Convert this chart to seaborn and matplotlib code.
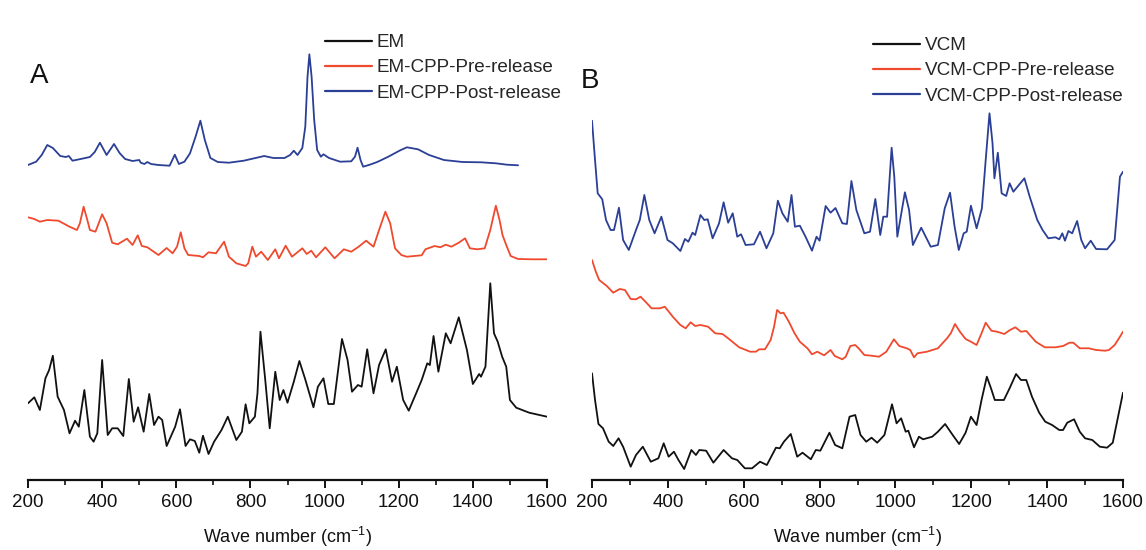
import matplotlib
matplotlib.use("Agg")
import matplotlib.pyplot as plt
import seaborn as sns
import pandas as pd
from matplotlib.ticker import MultipleLocator

# ---------------- data: (wave number cm-1, offset intensity a.u.) ----------------
A_EM = [
    (200, 76.7), (217, 82.7), (232, 70), (247, 101.7), (257, 110), (267, 124.3), (280, 83.3),
    (297, 70), (312, 46.7), (327, 59.3), (337, 53.3), (352, 90), (367, 43.3), (377, 38.3),
    (387, 46.7), (400, 120), (415, 45), (427, 51.7), (442, 51.7), (457, 44), (472, 101),
    (485, 58.3), (497, 72.7), (512, 48.3), (527, 86), (540, 55), (552, 63.3), (562, 60),
    (574, 34), (597, 53.3), (610, 70.7), (625, 34), (637, 40.7), (650, 39), (662, 27.3),
    (672, 44.3), (687, 26), (702, 38.3), (722, 50), (739, 63.3), (762, 40), (777, 48.3),
    (787, 75.7), (797, 56.7), (812, 63.3), (819, 86.7), (827, 148.3), (840, 100), (852, 51.7),
    (867, 108.3), (879, 80), (889, 90), (900, 77.3), (917, 98.3), (932, 119), (947, 101.7),
    (970, 72.7), (982, 93.3), (997, 101.7), (1010, 76), (1025, 76), (1047, 141), (1062, 120),
    (1074, 88.3), (1090, 95), (1100, 93.3), (1115, 130.7), (1132, 86.7), (1147, 115),
    (1165, 130.7), (1182, 98.3), (1195, 113.3), (1212, 80), (1227, 69.3), (1247, 86.7),
    (1262, 100), (1277, 116.7), (1284, 115), (1294, 144), (1307, 108.3), (1327, 146.7),
    (1340, 136.7), (1362, 162.7), (1384, 130), (1400, 96), (1417, 106), (1422, 103.3),
    (1434, 113.3), (1447, 196.7), (1457, 146.7), (1467, 138.3), (1479, 123.3), (1490, 113.3),
    (1500, 80), (1517, 72.3), (1552, 67.3), (1600, 63.3),
]
A_PRE = [
    (200, 262.7), (217, 261), (232, 258.3), (252, 260), (282, 259.3), (292, 257.3), (312, 253.3),
    (332, 250), (340, 256.7), (350, 273.3), (360, 260), (367, 250), (382, 248.3), (400, 265.7),
    (412, 256.7), (427, 237.3), (442, 235.7), (467, 241.3), (482, 235), (496, 244.7), (507, 234),
    (522, 232.7), (552, 225), (574, 232), (590, 226.7), (602, 233.3), (612, 247.7), (622, 231.7),
    (632, 225), (662, 224), (672, 222.7), (687, 227.7), (707, 226.7), (729, 238.3), (742, 223.3),
    (762, 216.7), (787, 214), (794, 216.7), (805, 233.3), (815, 223.3), (829, 228.3), (847, 220),
    (867, 230.7), (877, 221.7), (895, 234.3), (912, 223.3), (940, 231.7), (952, 226),
    (964, 229.3), (977, 222.7), (1002, 232.7), (1027, 221.7), (1052, 230.7), (1072, 228.3),
    (1092, 233.3), (1112, 239.3), (1132, 233.3), (1147, 250), (1164, 268.3), (1177, 256.7),
    (1190, 231.7), (1207, 225), (1222, 223.3), (1262, 224.7), (1272, 230.7), (1297, 234),
    (1312, 232.7), (1327, 235.3), (1342, 233.3), (1362, 237.3), (1379, 241.7), (1392, 231.7),
    (1412, 230.7), (1432, 231.7), (1447, 250), (1462, 274.3), (1472, 260), (1480, 245),
    (1490, 235), (1502, 224), (1522, 221), (1562, 220.7), (1600, 220.7),
]
A_POST = [
    (200, 315), (222, 318.3), (237, 325), (252, 335), (267, 332), (287, 324), (302, 323),
    (310, 324), (320, 319.3), (342, 321), (367, 323), (380, 328), (394, 337.3), (412, 325),
    (432, 336), (447, 327), (462, 321), (482, 319), (500, 320), (504, 317.3), (514, 316),
    (522, 318), (532, 316), (552, 315), (582, 314.3), (596, 325.3), (607, 316), (622, 318.3),
    (637, 326.7), (652, 343.3), (665, 359.3), (677, 340), (692, 322), (712, 318), (742, 317.3),
    (782, 319.3), (822, 322.7), (837, 324), (862, 322), (892, 322), (907, 325), (917, 329.3),
    (927, 325), (940, 332), (948, 353.3), (954, 403.3), (959, 425.7), (965, 403.3), (972, 360),
    (980, 330), (990, 323.3), (997, 325.7), (1012, 322), (1042, 318.3), (1072, 318.7),
    (1082, 323.3), (1089, 332.3), (1097, 320), (1104, 313.3), (1122, 315.3), (1142, 318),
    (1172, 323.3), (1202, 329.3), (1222, 332.7), (1252, 330.7), (1282, 325), (1322, 320),
    (1372, 318), (1422, 317.7), (1462, 316.7), (1492, 315.3), (1522, 314.7),
]
B_VCM = [
    (200, 106.7), (208, 80), (217, 56), (229, 51.7), (244, 38.3), (256, 34), (270, 41.7),
    (282, 33.3), (302, 13.3), (316, 25), (334, 33.3), (355, 18.3), (375, 21.7), (389, 36.7),
    (402, 23.3), (416, 28.3), (428, 20), (443, 11), (462, 30), (474, 25), (483, 30), (501, 29.3),
    (520, 17.3), (547, 30), (569, 21.7), (583, 20), (603, 11.7), (622, 11.7), (643, 18.3),
    (661, 15), (685, 32.3), (695, 31.7), (706, 38.3), (724, 46), (741, 23.3), (755, 27.3),
    (777, 20.7), (790, 30), (802, 29.3), (826, 47.3), (841, 35), (860, 31.7), (879, 63.3),
    (894, 65), (908, 45), (923, 38.3), (937, 42.3), (952, 37.3), (971, 45), (991, 75.7),
    (1003, 56.7), (1015, 61.7), (1027, 48.3), (1034, 49.3), (1049, 32.7), (1062, 43.3),
    (1073, 40.7), (1097, 43.3), (1112, 48.3), (1131, 56), (1151, 45), (1168, 36), (1185, 47.3),
    (1199, 63.3), (1214, 55), (1227, 80), (1241, 103.3), (1252, 91.7), (1262, 80), (1286, 80),
    (1301, 91.7), (1318, 106), (1331, 100), (1345, 100), (1360, 83.3), (1379, 67.3),
    (1395, 58.3), (1413, 55), (1432, 50), (1442, 50), (1453, 57.3), (1471, 60.7), (1486, 48.3),
    (1500, 41.7), (1519, 40), (1539, 33.3), (1558, 32.3), (1573, 37.3), (1587, 63.3),
    (1600, 87.3),
]
B_PRE = [
    (200, 220), (210, 208.3), (219, 200), (239, 194), (256, 187.3), (273, 191), (287, 190),
    (302, 181), (316, 180.7), (328, 183.3), (341, 178.3), (357, 171.7), (379, 171.7),
    (392, 173.3), (413, 163.3), (433, 155), (447, 151.7), (460, 157.7), (472, 154), (486, 155),
    (506, 153.3), (525, 146.7), (544, 146), (559, 141.7), (588, 132.7), (617, 128.3),
    (632, 128.3), (641, 130.7), (656, 130.7), (671, 140), (680, 153.3), (688, 170), (697, 166.7),
    (705, 167.3), (719, 158.3), (734, 146.7), (748, 138.3), (768, 131.7), (780, 125.7),
    (794, 128.3), (812, 124.7), (829, 130), (840, 124), (860, 120.7), (869, 123.3), (881, 134),
    (894, 135), (903, 131.7), (918, 125), (937, 124.3), (957, 123.3), (976, 128.3), (996, 140.7),
    (1010, 134), (1030, 131.7), (1039, 130), (1049, 122.7), (1058, 126.7), (1083, 128.3),
    (1112, 131.7), (1136, 141.7), (1146, 146.7), (1157, 156), (1170, 148.3), (1185, 141),
    (1199, 138.3), (1214, 135), (1227, 146.7), (1238, 157.3), (1253, 149.3), (1268, 148.3),
    (1287, 146), (1302, 150), (1316, 152.7), (1331, 148.3), (1345, 149), (1370, 138.3),
    (1394, 132.7), (1422, 132.7), (1442, 134), (1459, 137.3), (1469, 137.3), (1486, 131.7),
    (1510, 131.7), (1529, 130), (1553, 129.3), (1563, 130), (1578, 135), (1592, 143.3),
    (1600, 148.3),
]
B_POST = [
    (200, 359.3), (208, 320), (215, 286.7), (227, 280.7), (237, 260), (249, 250), (258, 250),
    (271, 272.3), (282, 240), (297, 230), (316, 250), (326, 260), (338, 285), (351, 260),
    (365, 246.7), (383, 263.3), (399, 240), (413, 236.7), (433, 229), (445, 241), (454, 238.3),
    (465, 247.3), (472, 245), (486, 265), (496, 260), (505, 260.7), (518, 241.7), (535, 256.7),
    (547, 277.7), (559, 257.3), (571, 266.7), (583, 243.3), (593, 245.7), (605, 235),
    (627, 235.7), (643, 248.3), (660, 231.7), (678, 246.7), (690, 279.3), (702, 266.7),
    (716, 258.3), (726, 285), (735, 253.3), (748, 254.3), (763, 243.3), (780, 229.3),
    (792, 243.3), (800, 239.3), (816, 274), (829, 267.3), (842, 272), (860, 256.7), (872, 256),
    (884, 299), (897, 270), (918, 246.7), (933, 248.3), (947, 281), (960, 245), (968, 263.3),
    (978, 263.3), (990, 332.3), (997, 303.3), (1005, 243.3), (1025, 287.7), (1036, 270),
    (1046, 235), (1068, 252.3), (1093, 233.3), (1112, 235), (1130, 271.7), (1144, 287.3),
    (1156, 253.3), (1167, 230), (1180, 246.7), (1188, 248.3), (1199, 274.3), (1214, 251.7),
    (1228, 271.7), (1238, 320), (1248, 366.7), (1256, 336.7), (1261, 301.7), (1270, 327.3),
    (1280, 286.7), (1292, 284), (1301, 296.7), (1311, 288.3), (1340, 301.7), (1354, 283.3),
    (1374, 260), (1388, 250), (1403, 241.7), (1422, 242.7), (1432, 240.7), (1440, 246.7),
    (1447, 239.3), (1456, 249), (1466, 246.7), (1479, 259), (1490, 240), (1500, 231.7),
    (1515, 239.3), (1529, 231), (1558, 230.7), (1578, 240), (1592, 303.3), (1600, 308.3),
]

PANEL_A_NAMES = ["EM", "EM-CPP-Pre-release", "EM-CPP-Post-release"]
PANEL_B_NAMES = ["VCM", "VCM-CPP-Pre-release", "VCM-CPP-Post-release"]
X_TICKS = [200, 400, 600, 800, 1000, 1200, 1400, 1600]
COLORS = ["#111111", "#ef4a2e", "#2a3f95"]

# ---------------- style ----------------
sns.set_theme(style="ticks")
plt.rcParams['font.family'] = ['Liberation Sans', 'DejaVu Sans']
plt.rcParams['mathtext.fontset'] = 'custom'
plt.rcParams['mathtext.rm'] = 'Liberation Sans'
plt.rcParams['mathtext.default'] = 'regular'

W, H = 1146, 550
fig = plt.figure(figsize=(W / 100, H / 100), dpi=100)
fig.patch.set_facecolor("white")

axA = fig.add_axes([28 / W, 70 / H, 519 / W, 480 / H])
axB = fig.add_axes([592 / W, 70 / H, 531 / W, 480 / H])


def draw(ax, series, names, legend_xy, letter, letter_xy):
    for data, name, col in zip(series, names, COLORS):
        df = pd.DataFrame(data, columns=["wn", "inten"])
        sns.lineplot(data=df, x="wn", y="inten", ax=ax, color=col, lw=1.3,
                     label=name, estimator=None, sort=False,
                     solid_joinstyle="round", solid_capstyle="round")
    ax.set_xlim(200, 1600)
    ax.set_ylim(0, 480)
    ax.set_facecolor("white")
    for s in ["left", "top", "right"]:
        ax.spines[s].set_visible(False)
    ax.spines["bottom"].set_linewidth(1.6)
    ax.spines["bottom"].set_color("#111111")
    ax.set_yticks([])
    ax.set_ylabel("")
    ax.set_xticks(X_TICKS)
    ax.xaxis.set_minor_locator(MultipleLocator(100))
    ax.tick_params(axis="x", which="major", direction="out", length=6, width=1.4,
                   labelsize=13.5, pad=4, colors="#111111")
    ax.tick_params(axis="x", which="minor", direction="out", length=3.5, width=1.2,
                   colors="#111111")
    ax.set_xlabel("Wave number (cm$^{-1}$)", fontsize=13, color="#111111")
    ax.xaxis.set_label_coords(0.5, (480 - 525) / 480)
    leg = ax.legend(loc="upper left", bbox_to_anchor=legend_xy, bbox_transform=fig.transFigure,
                    frameon=False, fontsize=13.6, handlelength=2.5, handletextpad=0.25,
                    labelspacing=0.42, borderpad=0, borderaxespad=0)
    for line in leg.get_lines():
        line.set_linewidth(1.6)
    fig.text(letter_xy[0], letter_xy[1], letter, fontsize=20, ha="left", va="baseline",
             color="#111111")


draw(axA, [A_EM, A_PRE, A_POST], PANEL_A_NAMES, (325 / W, 1 - 34 / H), "A",
     (30 / W, 1 - 83 / H))
draw(axB, [B_VCM, B_PRE, B_POST], PANEL_B_NAMES, (873 / W, 1 - 37 / H), "B",
     (581 / W, 1 - 88 / H))

fig.savefig("out.png", dpi=100, facecolor="white")
